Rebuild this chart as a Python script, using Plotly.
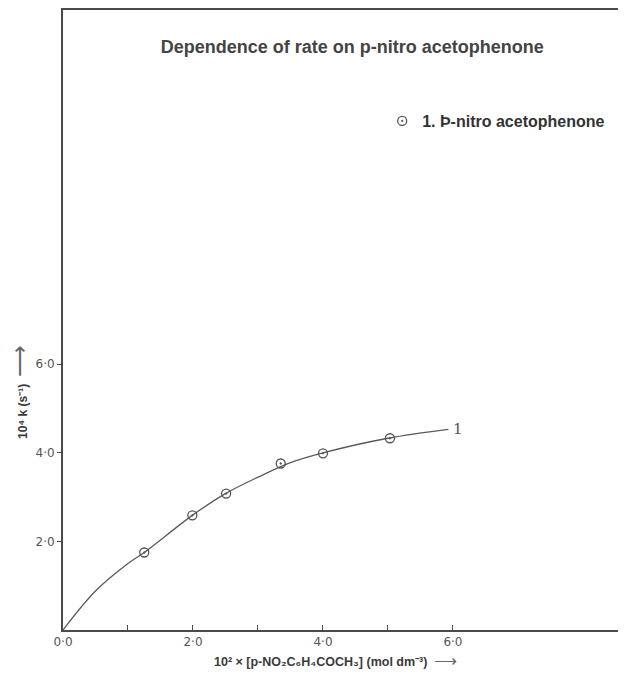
import plotly.graph_objects as go

# Measured data points
conc = [1.25, 1.99, 2.51, 3.35, 4.0, 5.03]
rate = [1.75, 2.59, 3.08, 3.76, 3.99, 4.33]

# Hand-drawn fitted curve
curve_x = [0.0, 0.5, 1.0, 1.25, 2.0, 2.5, 3.0, 3.5, 4.0, 5.0, 5.93]
curve_y = [0.0, 0.88, 1.5, 1.75, 2.6, 3.08, 3.45, 3.78, 4.0, 4.33, 4.53]

x_tick_vals = [0, 1, 2, 3, 4, 5, 6]
x_tick_text = ["0·0", "", "2·0", "", "4·0", "", "6·0"]
y_tick_vals = [2, 4, 6]
y_tick_text = ["2·0", "4·0", "6·0"]

ink = "#4a4a4a"
txt = "#3a3a3a"

fig = go.Figure()
fig.add_trace(go.Scatter(
    x=curve_x, y=curve_y, mode="lines", line=dict(color="#5a5a5a", width=1.3, shape="spline"),
    showlegend=False, hoverinfo="skip"))
fig.add_trace(go.Scatter(
    x=conc, y=rate, mode="markers", name="<b>1. Þ-nitro acetophenone</b>",
    marker=dict(symbol="circle-open-dot", size=9, color="#555555", line=dict(width=1.3))))

fig.add_annotation(x=curve_x[-1], y=curve_y[-1], text="1", showarrow=False, xanchor="left",
                   xshift=3, font=dict(family="DejaVu Serif", size=15, color="#555555"))

# axis titles
fig.add_annotation(xref="paper", yref="paper", x=0.49, y=-0.049, showarrow=False,
                   text="<b>10² × [p-NO₂C₆H₄COCH₃] (mol dm⁻³)</b>  <span style='font-size:16px;color:#666'>⟶</span>",
                   font=dict(family="Liberation Sans, Arial", size=12.5, color=txt),
                   xanchor="center", yanchor="middle")
fig.add_annotation(xref="paper", yref="paper", x=-0.077, y=0.384, showarrow=False, textangle=-90,
                   text="<b>10⁴ k (s⁻¹)</b>  <span style='font-size:22px;color:#666'>⟶</span>",
                   font=dict(family="Liberation Sans, Arial", size=12, color=txt),
                   xanchor="center", yanchor="middle")

fig.update_layout(
    width=618, height=666,
    margin=dict(l=55, r=6, t=2, b=44, autoexpand=False),
    paper_bgcolor="white", plot_bgcolor="white",
    title=dict(text="<b>Dependence of rate on p-nitro acetophenone</b>", x=0.557, xanchor="center",
               y=0.942, yanchor="middle",
               font=dict(family="Liberation Sans, Arial", size=18, color="#444444")),
    legend=dict(x=0.573, y=0.821, xanchor="left", yanchor="middle", bgcolor="rgba(0,0,0,0)",
                font=dict(family="Liberation Sans, Arial", size=16, color="#333333"),
                itemwidth=30),
    xaxis=dict(range=[0, 8.57], showgrid=False, zeroline=False, showline=True, linecolor=ink,
               linewidth=2, mirror=True, tickmode="array", tickvals=x_tick_vals,
               ticktext=x_tick_text, ticks="inside", ticklen=5, automargin=False,
               tickcolor=ink, tickwidth=1.2,
               tickfont=dict(family="DejaVu Sans", size=12, color="#555555")),
    yaxis=dict(range=[0, 14.0], showgrid=False, zeroline=False, showline=True, linecolor=ink,
               linewidth=2, mirror=True, tickmode="array", tickvals=y_tick_vals, automargin=False,
               ticktext=y_tick_text, ticks="outside", ticklen=4, tickcolor=ink, tickwidth=1.2,
               tickfont=dict(family="DejaVu Sans", size=12, color="#555555")),
)

fig.write_html("out.html")
